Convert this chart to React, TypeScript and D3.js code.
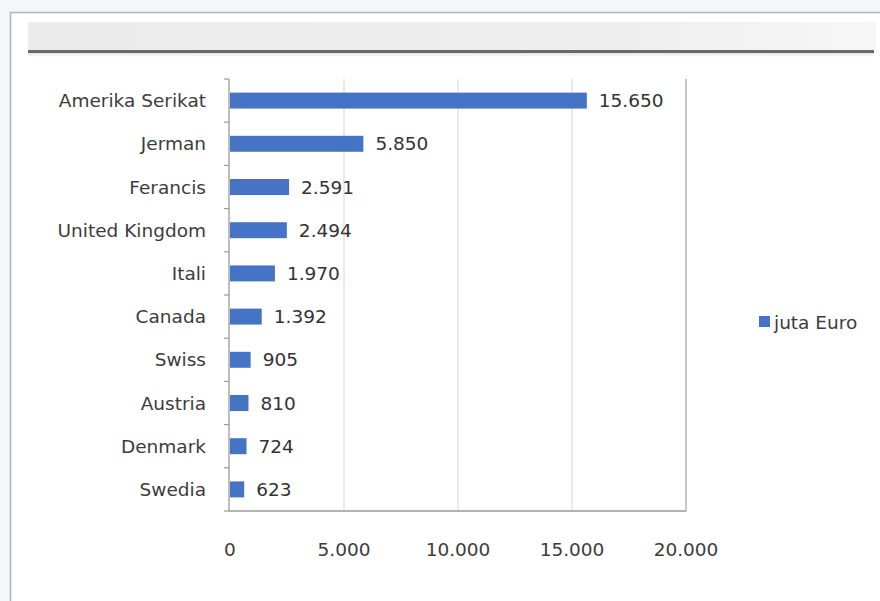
import React from "react";
import * as d3 from "d3";

const categories = [
  "Amerika Serikat",
  "Jerman",
  "Ferancis",
  "United Kingdom",
  "Itali",
  "Canada",
  "Swiss",
  "Austria",
  "Denmark",
  "Swedia",
];
const values = [15650, 5850, 2591, 2494, 1970, 1392, 905, 810, 724, 623];
const xTicks = [0, 5000, 10000, 15000, 20000];
const seriesName = "juta Euro";

const W = 880;
const H = 601;
const plot = { left: 230, right: 686, top: 79, bottom: 511 };
const BAR = "#4574c4";
const TEXT = "#3c3c3c";
const FONT = "'DejaVu Sans', 'Open Sans', sans-serif";

const fmt = (v: number) => d3.format(",")(v).replace(/,/g, ".");

export default function App() {
  const x = d3.scaleLinear().domain([0, 20000]).range([plot.left, plot.right]);
  const y = d3
    .scaleBand<string>()
    .domain(categories)
    .range([plot.top, plot.bottom])
    .paddingInner(0.63)
    .paddingOuter(0.315);
  const step = y.step();
  const boundaries = d3.range(categories.length + 1).map((i) => plot.top + i * step);

  return (
    <svg
      width={W}
      height={H}
      style={{ position: "absolute", left: 0, top: 0, background: "#ffffff" }}
      fontFamily={FONT}
    >
      <defs>
        <linearGradient id="band" x1="0" x2="1" y1="0" y2="0">
          <stop offset="0" stopColor="#ebebeb" />
          <stop offset="0.7" stopColor="#eeeeee" />
          <stop offset="1" stopColor="#f7f7f7" />
        </linearGradient>
        <linearGradient id="shadow" x1="0" x2="0" y1="0" y2="1">
          <stop offset="0" stopColor="#d0d0d0" />
          <stop offset="1" stopColor="#ffffff" />
        </linearGradient>
      </defs>
      {/* outer light area and frame */}
      <rect x={0} y={0} width={W} height={H} fill="#f4f7f9" />
      <rect x={10} y={12} width={W - 10} height={H - 12} fill="#ffffff" />
      <line x1={10} y1={12.5} x2={W} y2={12.5} stroke="#b5b5b5" strokeWidth={1.5} />
      <line x1={10.5} y1={12} x2={10.5} y2={H} stroke="#b0b0b0" strokeWidth={1.5} />
      {/* header band */}
      <rect x={28} y={22} width={W - 32} height={28} fill="url(#band)" />
      <rect x={28} y={50} width={W - 34} height={3} fill="#6a6a6a" />
      <rect x={28} y={53} width={W - 34} height={4} fill="url(#shadow)" opacity={0.6} />

      {/* gridlines */}
      {xTicks.slice(1).map((t) => (
        <line
          key={"g" + t}
          x1={x(t)}
          x2={x(t)}
          y1={plot.top}
          y2={plot.bottom}
          stroke={t === 20000 ? "#a0a0a0" : "#dcdcdc"}
          strokeWidth={1.2}
        />
      ))}
      {/* axes */}
      <line x1={plot.left - 1} x2={plot.left - 1} y1={plot.top} y2={plot.bottom} stroke="#9a9a9a" strokeWidth={1.3} />
      <line x1={plot.left - 1} x2={plot.right} y1={plot.bottom} y2={plot.bottom} stroke="#9a9a9a" strokeWidth={1.3} />
      {boundaries.map((b, i) => (
        <line key={"t" + i} x1={plot.left - 6} x2={plot.left - 1} y1={b} y2={b} stroke="#9a9a9a" strokeWidth={1.2} />
      ))}

      {/* bars */}
      {categories.map((c, i) => (
        <rect
          key={c}
          x={x(0)}
          y={y(c)}
          width={x(values[i]) - x(0)}
          height={y.bandwidth()}
          fill={BAR}
        />
      ))}
      {/* value labels */}
      {categories.map((c, i) => (
        <text
          key={"v" + c}
          x={x(values[i]) + 12}
          y={(y(c) as number) + y.bandwidth() / 2}
          dy="0.36em"
          fontSize={18.5}
          fill="#333"
        >
          {fmt(values[i])}
        </text>
      ))}
      {/* category labels */}
      {categories.map((c) => (
        <text
          key={"c" + c}
          x={206}
          y={(y(c) as number) + y.bandwidth() / 2}
          dy="0.36em"
          textAnchor="end"
          fontSize={18.5}
          fill={TEXT}
        >
          {c}
        </text>
      ))}
      {/* x tick labels */}
      {xTicks.map((t) => (
        <text key={"x" + t} x={x(t)} y={549} dy="0.36em" textAnchor="middle" fontSize={18.5} fill={TEXT}>
          {fmt(t)}
        </text>
      ))}
      {/* legend */}
      <rect x={759} y={316} width={11} height={11} fill={BAR} />
      <text x={774} y={322} dy="0.36em" fontSize={18.5} fill={TEXT}>
        {seriesName}
      </text>
    </svg>
  );
}
